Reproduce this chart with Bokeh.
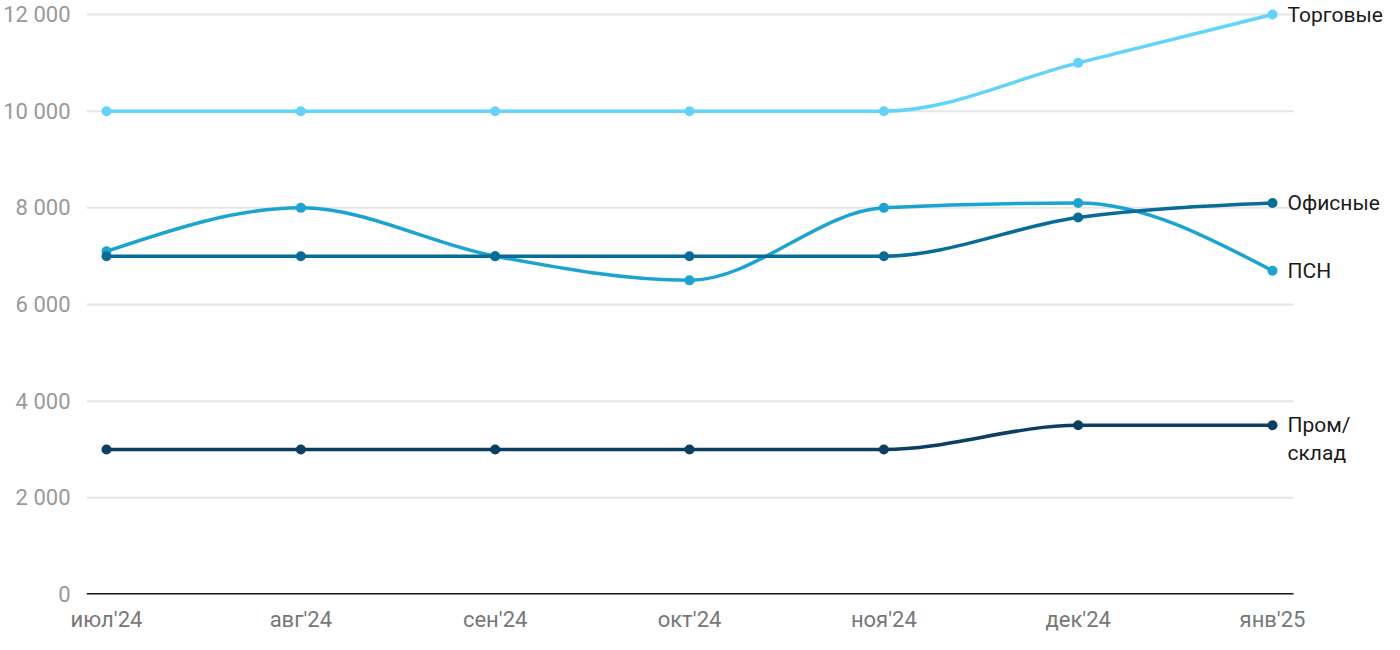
from bokeh.plotting import figure
from bokeh.models import Range1d, FixedTicker, ColumnDataSource
from bokeh.core.properties import value
from bokeh.embed import file_html
from bokeh.resources import INLINE

months = ["июл'24", "авг'24", "сен'24", "окт'24", "ноя'24", "дек'24", "янв'25"]
torg = [10000, 10000, 10000, 10000, 10000, 11000, 12000]
ofis = [7000, 7000, 7000, 7000, 7000, 7800, 8100]
psn = [7100, 8000, 7000, 6500, 8000, 8100, 6700]
prom = [3000, 3000, 3000, 3000, 3000, 3500, 3500]
y_ticks = [0, 2000, 4000, 6000, 8000, 10000, 12000]
y_tick_labels = ["0", "2 000", "4 000", "6 000", "8 000", "10 000", "12 000"]

series = [
    (["Торговые"], torg, "#62d4fb"),
    (["ПСН"], psn, "#1ba4d2"),
    (["Офисные"], ofis, "#086c98"),
    (["Пром/", "склад"], prom, "#0a3e62"),
]

FONT = "Roboto"
X_LO, X_HI = -0.1029, 6.108  # plotting-area extent (gridlines / axis line)

p = figure(width=1384, height=634, output_backend="svg", toolbar_location=None,
           x_range=Range1d(X_LO, 6.5763), y_range=Range1d(0, 12290),
           min_border_left=86, min_border_right=0, min_border_top=0, min_border_bottom=40)
p.outline_line_color = None
p.background_fill_color = "white"
p.border_fill_color = "white"

xs = list(range(len(months)))

p.segment(x0=[X_LO] * len(y_ticks), x1=[X_HI] * len(y_ticks), y0=y_ticks, y1=y_ticks,
          line_color="#e6e6e6", line_width=2)


def tangents(x, y):
    n = len(x)
    h = [x[i + 1] - x[i] for i in range(n - 1)]
    s = [(y[i + 1] - y[i]) / h[i] for i in range(n - 1)]
    t = [0.0] * n
    sign = lambda v: (v > 0) - (v < 0)
    for i in range(1, n - 1):
        pp = (s[i - 1] * h[i] + s[i] * h[i - 1]) / (h[i - 1] + h[i])
        t[i] = (sign(s[i - 1]) + sign(s[i])) * min(abs(s[i - 1]), abs(s[i]), 0.5 * abs(pp)) or 0.0
    t[0] = (3 * s[0] - t[1]) / 2 if n > 2 else s[0]
    t[-1] = (3 * s[-1] - t[-2]) / 2 if n > 2 else s[-1]
    return t


lab_x, lab_y, lab_t, lab_off = [], [], [], []
for names, ys, col in series:
    t = tangents(xs, ys)
    x0, y0, x1, y1, cx0, cy0, cx1, cy1 = [], [], [], [], [], [], [], []
    for i in range(len(xs) - 1):
        dx = xs[i + 1] - xs[i]
        x0.append(xs[i]); y0.append(ys[i])
        x1.append(xs[i + 1]); y1.append(ys[i + 1])
        cx0.append(xs[i] + dx / 3); cy0.append(ys[i] + dx * t[i] / 3)
        cx1.append(xs[i + 1] - dx / 3); cy1.append(ys[i + 1] - dx * t[i + 1] / 3)
    p.bezier(x0=x0, y0=y0, x1=x1, y1=y1, cx0=cx0, cy0=cy0, cx1=cx1, cy1=cy1,
             line_color=col, line_width=3.5)
    p.scatter(xs, ys, size=10, fill_color=col, line_color=None)
    for k, nm in enumerate(names):
        lab_x.append(xs[-1]); lab_y.append(ys[-1]); lab_t.append(nm); lab_off.append(28 * k)

p.segment(x0=[X_LO], x1=[X_HI], y0=[0], y1=[0], line_color="#1a1a1a", line_width=3)

src = ColumnDataSource(dict(x=lab_x, y=lab_y, t=lab_t, off=lab_off))
p.text(x="x", y="y", text="t", y_offset="off", x_offset=15, source=src,
       text_baseline="middle", text_align="left",
       text_font=value(FONT), text_font_size="21px", text_color="#1a1a1a")

p.xaxis.ticker = FixedTicker(ticks=xs)
p.xaxis.major_label_overrides = {i: m for i, m in enumerate(months)}
p.xaxis.axis_line_color = None
p.xaxis.major_tick_line_color = None
p.xaxis.minor_tick_line_color = None
p.xaxis.major_label_text_font = FONT
p.xaxis.major_label_text_font_size = "22px"
p.xaxis.major_label_text_color = "#777777"
p.xaxis.major_label_standoff = 6

p.yaxis.ticker = FixedTicker(ticks=y_ticks)
p.yaxis.major_label_overrides = {v: l for v, l in zip(y_ticks, y_tick_labels)}
p.yaxis.axis_line_color = None
p.yaxis.major_tick_line_color = None
p.yaxis.minor_tick_line_color = None
p.yaxis.major_label_text_font = FONT
p.yaxis.major_label_text_font_size = "22px"
p.yaxis.major_label_text_color = "#999999"
p.yaxis.major_label_standoff = 10

p.xgrid.grid_line_color = None
p.ygrid.grid_line_color = None

open("out.html", "w").write(file_html(p, INLINE))
